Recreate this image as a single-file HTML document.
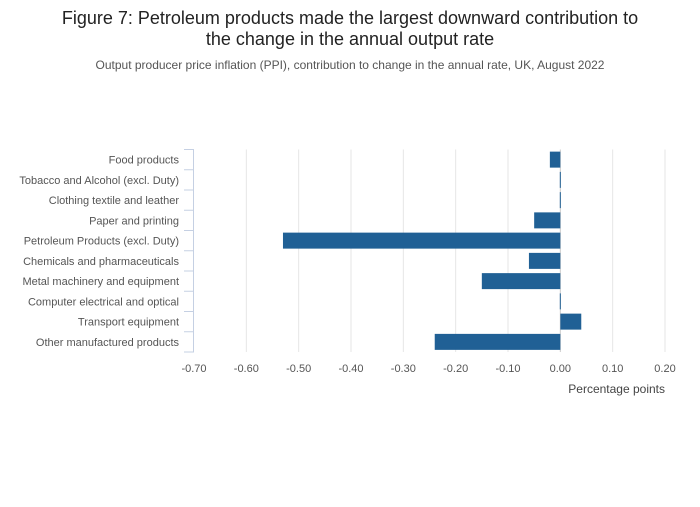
<!DOCTYPE html>
<html><head><meta charset="utf-8"><style>
body{margin:0;background:#fff;font-family:"Liberation Sans",sans-serif;}
svg text{font-family:"Liberation Sans",sans-serif;}
</style></head><body>
<svg id="c" width="700" height="502">
<text x="350" y="24" text-anchor="middle" font-size="18" fill="#222">Figure 7: Petroleum products made the largest downward contribution to</text>
<text x="350" y="45" text-anchor="middle" font-size="18" fill="#222">the change in the annual output rate</text>
<text x="350" y="69" text-anchor="middle" font-size="12" fill="#555">Output producer price inflation (PPI), contribution to change in the annual rate, UK, August 2022</text>
<g id="grid"></g><g id="bars"></g><g id="axes"></g>
<text x="665" y="393" text-anchor="end" font-size="12" fill="#444">Percentage points</text>
</svg>
<script>
const categories=["Food products","Tobacco and Alcohol (excl. Duty)","Clothing textile and leather","Paper and printing","Petroleum Products (excl. Duty)","Chemicals and pharmaceuticals","Metal machinery and equipment","Computer electrical and optical","Transport equipment","Other manufactured products"];
const values=[-0.02,-0.001,-0.001,-0.05,-0.53,-0.06,-0.15,-0.001,0.04,-0.24];
const ticks=[-0.7,-0.6,-0.5,-0.4,-0.3,-0.2,-0.1,0,0.1,0.2];
const tickLabels=["-0.70","-0.60","-0.50","-0.40","-0.30","-0.20","-0.10","0.00","0.10","0.20"];
const NS="http://www.w3.org/2000/svg";
const x0=194,x1=665,y0=149.5,y1=352;
const xs=v=>x0+(v-(-0.7))/(0.9)*(x1-x0);
const rh=(y1-y0)/categories.length;
const ys=i=>y0+i*rh;
function mk(t,a,p){const e=document.createElementNS(NS,t);for(const k in a)e.setAttribute(k,a[k]);p.appendChild(e);return e;}
const g=document.getElementById('grid'),b=document.getElementById('bars'),ax=document.getElementById('axes');
ticks.forEach((t,i)=>{
 if(i>0){const l=mk('line',{x1:xs(t),x2:xs(t),y1:y0,y2:y1,stroke:t===0?'#ccc':'#e6e6e6','stroke-width':1},g);
 
 }
 const tx=mk('text',{x:xs(t),y:372,'text-anchor':'middle','font-size':11,fill:'#555'},ax);tx.textContent=tickLabels[i];
 
 
});
const al=mk('line',{x1:x0-0.5,x2:x0-0.5,y1:y0,y2:y1,stroke:'#c5d0e3'},ax);


for(let i=0;i<=categories.length;i++){const tk=mk('line',{x1:184,x2:x0,y1:ys(i),y2:ys(i),stroke:'#c5d0e3'},ax);
 
 }
categories.forEach((c,i)=>{
 const cy=ys(i)+rh/2;
 const tx=mk('text',{x:179,y:cy+4,'text-anchor':'end','font-size':11,fill:'#555'},ax);tx.textContent=c;
 
 
 const v=values[i];let a=xs(Math.min(0,v)),w=Math.abs(xs(v)-xs(0));if(w<1)w=1;
 const r=mk('rect',{x:a,y:cy-8,width:w,height:16,fill:'#206095'},b);
 
 
});
</script>
</body></html>
